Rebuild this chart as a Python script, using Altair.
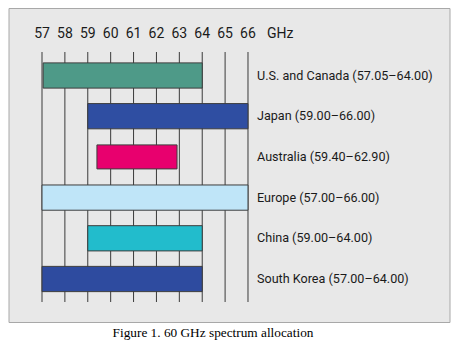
import altair as alt
import pandas as pd

regions = ["U.S. and Canada", "Japan", "Australia", "Europe", "China", "South Korea"]
starts = [57.05, 59.00, 59.40, 57.00, 59.00, 57.00]
ends = [64.00, 66.00, 62.90, 66.00, 64.00, 64.00]
colors = ["#4e9a88", "#2f4ea2", "#e8006e", "#bfe5f8", "#22bccc", "#2e4b9f"]
ticks = [57, 58, 59, 60, 61, 62, 63, 64, 65, 66]
caption = "Figure 1. 60 GHz spectrum allocation"

df = pd.DataFrame({
    "region": regions,
    "start": starts,
    "end": ends,
    "row": list(range(len(regions))),
    "color": colors,
})
df["label"] = [f"{r} ({s:.2f}–{e:.2f})" for r, s, e in zip(regions, starts, ends)]
df["half"] = [0.295 if r == "Australia" else 0.31 for r in regions]
df["ylo"] = df["row"] - df["half"]
df["yhi"] = df["row"] + df["half"]
tick_df = pd.DataFrame({"ghz": ticks, "txt": [str(t) for t in ticks]})

W, H = 455, 351
xs = alt.Scale(domain=[55.165, 75.044], range=[0, W], zero=False, nice=False)
ys = alt.Scale(domain=[0, 5], range=[75.5, 279], zero=False, nice=False)
font = "Roboto"

base = alt.Chart(df)

panel = alt.Chart(pd.DataFrame({"a": [0]})).mark_rect(
    fill="#e8e8e8", stroke="#a8a8a8", strokeWidth=1
).encode(x=alt.value(9), x2=alt.value(450), y=alt.value(8.5), y2=alt.value(322.5))

grid = alt.Chart(tick_df).mark_rule(color="#3a3a3a", strokeWidth=1).encode(
    x=alt.X("ghz:Q", scale=xs, axis=None),
    y=alt.value(52), y2=alt.value(302),
)

bars = base.mark_rect(stroke="#3d3d3d", strokeWidth=1).encode(
    x=alt.X("start:Q", scale=xs, axis=None),
    x2="end:Q",
    y=alt.Y("ylo:Q", scale=ys, axis=None),
    y2="yhi:Q",
    fill=alt.Fill("color:N", scale=None),
)

labels = base.mark_text(align="left", baseline="middle", font=font, fontSize=12.6, color="#1a1a1a").encode(
    x=alt.value(257),
    y=alt.Y("row:Q", scale=ys, axis=None),
    text="label:N",
)

tick_labels = alt.Chart(tick_df).mark_text(baseline="middle", font=font, fontSize=14, color="#1a1a1a").encode(
    x=alt.X("ghz:Q", scale=xs, axis=None),
    y=alt.value(34),
    text="txt:N",
)

ghz = alt.Chart(pd.DataFrame({"t": ["GHz"]})).mark_text(
    align="left", baseline="middle", font=font, fontSize=14, color="#1a1a1a"
).encode(x=alt.value(267), y=alt.value(34), text="t:N")

cap = alt.Chart(pd.DataFrame({"t": [caption]})).mark_text(
    align="center", baseline="middle", font="Liberation Serif, Times New Roman, serif", fontSize=13.3, color="#000000"
).encode(x=alt.value(213), y=alt.value(333), text="t:N")

chart = alt.layer(panel, grid, bars, labels, tick_labels, ghz, cap).properties(
    width=W, height=H, padding=0, autosize=alt.AutoSizeParams(type="none"), background="white"
).configure_view(stroke=None)

chart.save("out.html", embed_options={"renderer": "svg", "actions": False})
